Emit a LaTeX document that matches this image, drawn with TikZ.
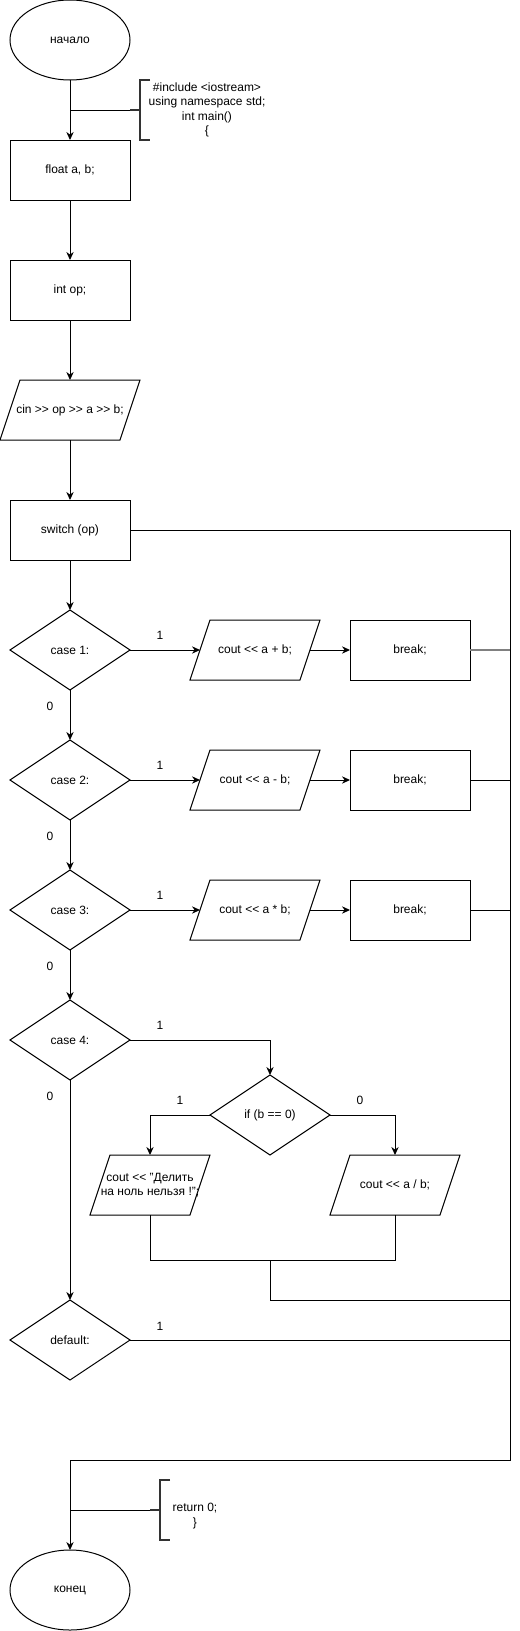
\documentclass[tikz,border=0pt]{standalone}
\usepackage{fontspec}
\setmainfont{Liberation Sans}
\usetikzlibrary{arrows.meta,shapes.geometric}
\def\ioframe(#1){\draw ([xshift=7.5pt]#1.north west) -- ([xshift=7.5pt]#1.north east) -- ([xshift=-7.5pt]#1.south east) -- ([xshift=-7.5pt]#1.south west) -- cycle;}

\tikzset{
	every node/.style={font=\fontsize{9}{10.7}\selectfont},
	proc/.style={draw, rectangle, minimum width=90pt, minimum height=45pt, inner sep=0pt, outer sep=0pt},
	cond/.style={draw, diamond, minimum width=90pt, minimum height=60pt, inner sep=0pt, outer sep=0pt},
	term/.style={draw, ellipse, minimum width=90pt, minimum height=60pt, inner sep=0pt, outer sep=0pt},
	io/.style={rectangle, minimum width=#1, minimum height=45pt, inner sep=0pt, outer sep=0pt},
	arr/.style={-{Stealth[length=6pt, width=5.5pt]}},
	brk/.style={line width=1.5pt, color=black!80},
	lbl/.style={inner sep=0pt}
}

\begin{document}
\begin{tikzpicture}[x=0.75pt, y=-0.75pt, line width=0.75pt]
			%%%%% START %%%%%
			\useasboundingbox (0, 0) rectangle (519, 1631);
			
			\node[term] (start) at (70, 40) {начало};
			\node[proc] (float) at (70, 170) {float a, b;};
			\node[proc] (int) at (70, 290) {int op;};
			\node[io=90pt] (cin) at (70, 410) {cin >{}> op >{}> a >{}> b;};
			\node[proc] (sw) at (70, 530) {switch (op)};
			
			\node[cond] (c1) at (70, 650) {case 1:};
			\node[cond] (c2) at (70, 780) {case 2:};
			\node[cond] (c3) at (70, 910) {case 3:};
			\node[cond] (c4) at (70, 1040) {case 4:};
			\node[cond] (dflt) at (70, 1340) {default:};
			\node[term] (end) at (70, 1590) {конец};
			
			\node[io=82.5pt] (o1) at (255, 650) {cout <{}< a + b;};
			\node[io=82.5pt] (o2) at (255, 780) {cout <{}< a - b;};
			\node[io=82.5pt] (o3) at (255, 910) {cout <{}< a * b;};
			\node[proc] (br1) at (410, 650) {break;};
			\node[proc] (br2) at (410, 780) {break;};
			\node[proc] (br3) at (410, 910) {break;};
			
			\node[cond] (ifb) at (270, 1115) {if (b == 0)};
			\node[io=75pt, align=center] (div0) at (150, 1185) {cout <{}< \char34 Делить\\на ноль нельзя !\char34;};
			\node[io=82.5pt] (divok) at (395, 1185) {cout <{}< a / b;};
			
			\ioframe(cin)
			\ioframe(o1)
			\ioframe(o2)
			\ioframe(o3)
			\ioframe(div0)
			\ioframe(divok)
			
			% comments
			\node[align=center] (head) at (207, 110) {\#include <iostream>\\using namespace std;\\int main()\\\{};
			\draw[brk] (150, 80) -- (140, 80) -- (140, 140) -- (150, 140);
			\draw[brk] (130, 110) -- (140, 110);
			\coordinate (b1) at (130, 110);
			
			\node[align=center] (tail) at (195, 1516) {return 0;\\\}};
			\draw[brk] (170, 1480) -- (160, 1480) -- (160, 1540) -- (170, 1540);
			\draw[brk] (150, 1510) -- (160, 1510);
			\coordinate (b2) at (150, 1510);
			
			% main line
			\draw[arr] (start) -- (float);
			\draw (start |- b1) -- (b1);
			\draw[arr] (float) -- (int);
			\draw[arr] (int) -- (cin);
			\draw[arr] (cin) -- (sw);
			\draw[arr] (sw) -- (c1);
			\draw[arr] (c1) -- (c2);
			\draw[arr] (c2) -- (c3);
			\draw[arr] (c3) -- (c4);
			\draw[arr] (c4) -- (dflt);
			
			\node[lbl] at (50, 706) {0};
			\node[lbl] at (50, 836) {0};
			\node[lbl] at (50, 966) {0};
			\node[lbl] at (50, 1096) {0};
			
			% cases
			\draw[arr] (c1) -- (o1);
			\draw[arr] (o1) -- (br1);
			\draw[arr] (c2) -- (o2);
			\draw[arr] (o2) -- (br2);
			\draw[arr] (c3) -- (o3);
			\draw[arr] (o3) -- (br3);
			\node[lbl] at (160, 635) {1};
			\node[lbl] at (160, 765) {1};
			\node[lbl] at (160, 895) {1};
			
			\draw[arr] (c4) -| (ifb);
			\draw[arr] (ifb) -| (div0);
			\draw[arr] (ifb) -| (divok);
			\node[lbl] at (160, 1025) {1};
			\node[lbl] at (180, 1100) {1};
			\node[lbl] at (360, 1100) {0};
			
			\coordinate (m) at (270, 1260);
			\draw (div0.south) |- (divok.south |- m) -- (divok.south);
			
			% right bus
			\coordinate (bus) at (510, 1460);
			\draw (sw.east) -- (sw.east -| bus) -- (bus) -- (bus -| end);
			\draw[arr] (bus -| end) -- (end);
			\draw (end |- b2) -- (b2);
			
			\draw[line width=1.2pt, color=black!50] (br1) -- (br1 -| bus);
			\draw (br2) -- (br2 -| bus);
			\draw (br3) -- (br3 -| bus);
			\draw (m) |- (dflt.north -| bus);
			\draw (dflt) -- (dflt -| bus);
			\node[lbl] at (160, 1326) {1};
			
			%%%%% END %%%%%
\end{tikzpicture}
\end{document}
